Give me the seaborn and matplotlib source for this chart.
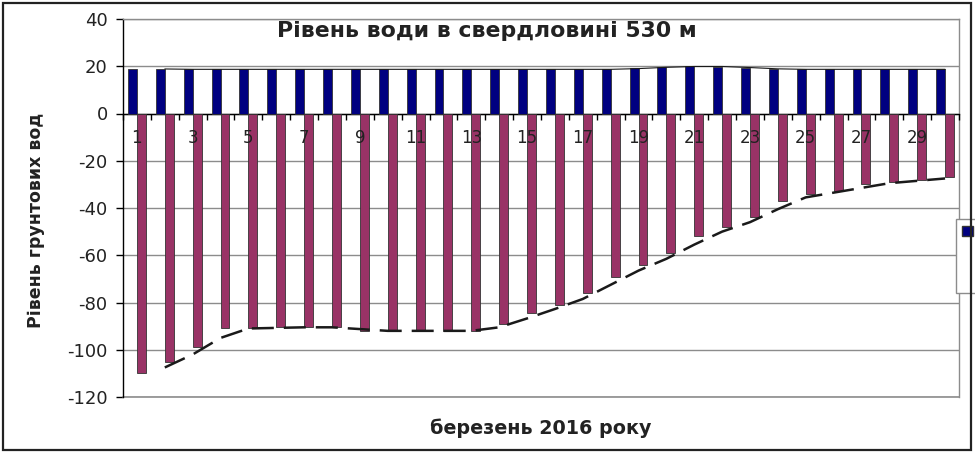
"""Bar chart of groundwater level in the 530 m borehole, March 2016."""
import matplotlib
matplotlib.use("Agg")
import matplotlib.pyplot as plt
from matplotlib.lines import Line2D
from matplotlib.patches import Patch, Rectangle
import numpy as np
import pandas as pd
import seaborn as sns

DAYS = list(range(1, 31))
SERIES = ["Ряд1", "Ряд2"]
# upper (positive) series
TOP_LEVEL = [19.0, 18.7, 18.7, 18.7, 18.7, 18.7, 18.7, 18.7, 18.7, 18.7,
             18.7, 18.7, 18.7, 18.7, 18.7, 18.7, 18.7, 18.7, 19.3, 19.8,
             20.0, 19.8, 19.1, 18.7, 18.7, 18.7, 18.7, 18.7, 18.7, 18.7]
# water level below the surface
WATER_LEVEL = [-110, -105, -99, -91, -91, -90.5, -90.5, -90.5, -92, -92,
               -92, -92, -92, -89, -84.5, -81, -76, -69, -64, -59,
               -52, -48, -44, -37, -34, -33, -30, -29, -28, -27]

TITLE = "Рівень води в свердловині 530 м"
X_LABEL = "березень 2016 року"
Y_LABEL = "Рівень грунтових вод"

BLUE = "#000080"
PLUM = "#993366"
GRID = "#8c8c8c"
W, H = 975, 453


def main() -> None:
    sns.set_theme(style="white")
    plt.rcParams["font.family"] = ["DejaVu Sans"]
    plt.rcParams["axes.unicode_minus"] = False

    df = pd.DataFrame({
        "day": DAYS * 2,
        "series": [SERIES[0]] * len(DAYS) + [SERIES[1]] * len(DAYS),
        "value": TOP_LEVEL + WATER_LEVEL,
    })

    fig = plt.figure(figsize=(W / 100, H / 100), dpi=100)
    fig.patch.set_facecolor("white")
    ax = fig.add_axes([123 / W, 1 - 397 / H, (959 - 123) / W, (397 - 19) / H])

    sns.barplot(data=df, x="day", y="value", hue="series",
                palette=[BLUE, PLUM], saturation=1, width=0.64, gap=0,
                errorbar=None, edgecolor="#333333", linewidth=0.6,
                legend=False, zorder=3, ax=ax)

    # 2-period moving average trend lines, as in the spreadsheet
    pos = np.arange(len(DAYS))
    ma_top = pd.Series(TOP_LEVEL).rolling(2).mean()
    ma_water = pd.Series(WATER_LEVEL).rolling(2).mean()
    ax.plot(pos, ma_water, color="#1a1a1a", lw=1.8, dashes=(8.8, 4), zorder=4)
    ax.plot(pos, ma_top, color="#1a1a1a", lw=0.8, zorder=4)

    ax.set_xlim(-0.5, len(DAYS) - 0.5)
    ax.set_ylim(-120, 40)
    ax.set_yticks(range(-120, 41, 20))
    ax.set_xticks(pos[::2], labels=[str(d) for d in DAYS[::2]])
    ax.set_xticks(np.arange(-0.5, len(DAYS)), minor=True)
    ax.set_xlabel("")
    ax.set_ylabel("")

    ax.grid(axis="y", color=GRID, lw=1)
    # bottom edge of the plot area
    ax.axhline(-120, color=GRID, lw=1.2, clip_on=False, zorder=0.6)
    ax.set_axisbelow(True)
    # day numbers sit on top of the bars, grid stays behind
    ax.xaxis.set_zorder(3.5)
    ax.spines["bottom"].set_position(("data", 0))
    ax.spines["bottom"].set_color("black")
    ax.spines["left"].set_color("black")
    for side in ("top", "right"):
        ax.spines[side].set_color(GRID)
    for sp in ax.spines.values():
        sp.set_linewidth(1)

    ax.tick_params(axis="x", which="major", bottom=True, length=0, pad=11,
                   labelsize=12, labelcolor="#222222")
    ax.tick_params(axis="x", which="minor", bottom=True, length=4, width=1,
                   color="black", direction="out")
    ax.tick_params(axis="y", left=True, length=5, width=1, color="black",
                   direction="out", pad=6, labelsize=13, labelcolor="#222222")

    ax.text(0.435, 0.968, TITLE, transform=ax.transAxes, ha="center",
            va="center", fontsize=15.8, fontweight="bold", color="#222222")
    fig.text(541 / W, 1 - 428 / H, X_LABEL, ha="center", va="center",
             fontsize=13.8, fontweight="bold", color="#222222")
    fig.text(36 / W, 1 - 220 / H, Y_LABEL, ha="center", va="center",
             rotation=90, fontsize=12.5, fontweight="bold", color="#222222")

    handles = [Patch(facecolor=BLUE, edgecolor="#333333"),
               Line2D([], [], color="none"), Line2D([], [], color="none")]
    leg = fig.legend(handles, ["", "", ""], loc="upper left",
                     bbox_to_anchor=(955.7 / W, 1 - 219 / H), frameon=True,
                     fancybox=False, edgecolor=GRID, framealpha=1,
                     borderaxespad=0, fontsize=9, handlelength=0.9,
                     handleheight=0.8, labelspacing=0.9, borderpad=0.5,
                     handletextpad=0.5)
    leg.set_zorder(5)

    fig.add_artist(Rectangle((3 / W, 3 / H), (971 - 3) / W, (450 - 3) / H,
                             transform=fig.transFigure, fill=False,
                             edgecolor="#222222", lw=1.6, zorder=10))

    fig.savefig("out.png", dpi=100)
    plt.close(fig)


if __name__ == "__main__":
    main()
